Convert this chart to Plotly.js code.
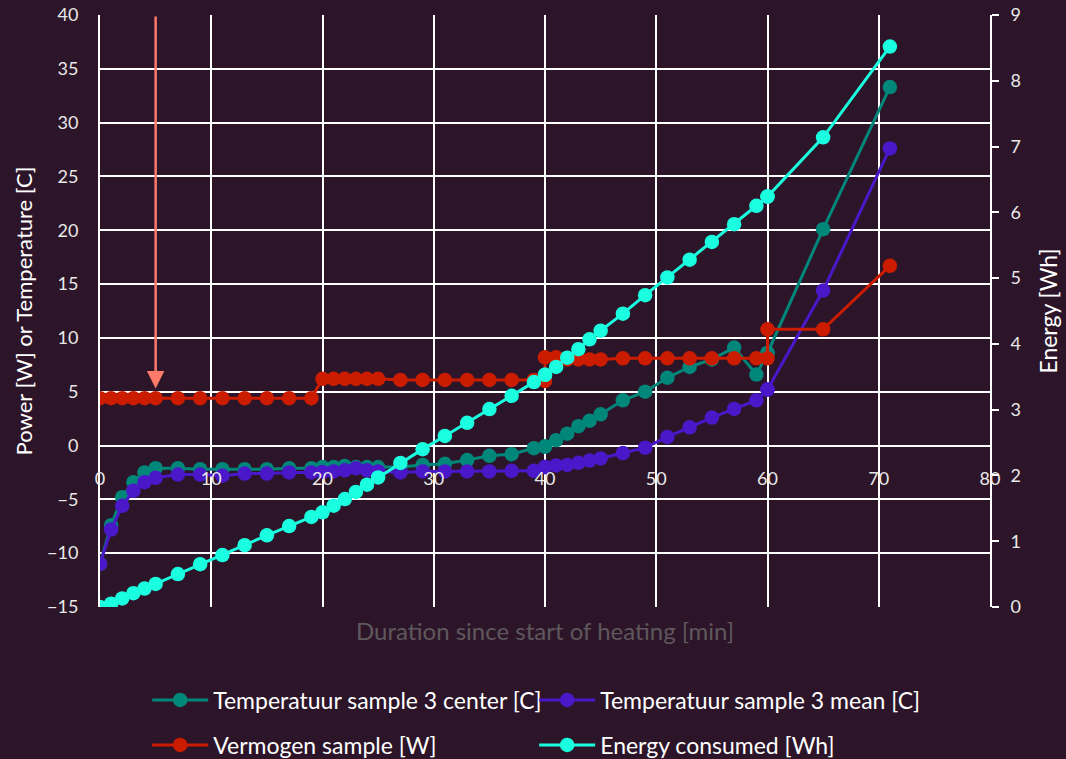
<!DOCTYPE html>
<html>
<head>
<meta charset="utf-8">
<script src="https://cdn.plot.ly/plotly-3.0.1.min.js"></script>
<style>html,body{margin:0;padding:0;background:#2d1529;}#chart{width:1066px;height:759px;}</style>
</head>
<body>
<div id="chart"></div>
<script>
// Duration since start of heating [min]
const minutes = [0,1,2,3,4,5,7,9,11,13,15,17,19,20,21,22,23,24,25,27,29,31,33,35,37,39,40,40,41,42,43,44,45,47,49,51,53,55,57,59,60,60,65,71];
// Temperatuur sample 3 center [C]
const tempCenter = [-11.0,-7.4,-4.8,-3.4,-2.5,-2.1,-2.1,-2.2,-2.2,-2.2,-2.2,-2.1,-2.1,-2.0,-2.0,-1.9,-2.0,-2.0,-2.0,-2.0,-1.8,-1.7,-1.35,-0.95,-0.8,-0.25,-0.1,-0.1,0.5,1.1,1.8,2.3,2.9,4.2,5.0,6.3,7.3,8.0,9.1,6.6,8.6,8.6,20.1,33.3];
// Temperatuur sample 3 mean [C]
const tempMean = [-11.0,-7.8,-5.6,-4.2,-3.4,-3.0,-2.7,-2.7,-2.8,-2.6,-2.6,-2.5,-2.5,-2.45,-2.4,-2.3,-2.1,-2.3,-2.4,-2.5,-2.4,-2.4,-2.4,-2.4,-2.35,-2.35,-2.0,-2.0,-1.85,-1.8,-1.6,-1.4,-1.2,-0.7,-0.2,0.8,1.7,2.6,3.4,4.2,5.2,5.2,14.4,27.6];
// Vermogen sample [W]
const power = [4.4,4.4,4.4,4.4,4.4,4.4,4.4,4.4,4.4,4.4,4.4,4.4,4.4,6.2,6.2,6.2,6.2,6.2,6.2,6.1,6.1,6.1,6.1,6.1,6.1,6.1,6.0,8.2,8.2,8.0,8.0,8.0,8.0,8.1,8.1,8.1,8.1,8.1,8.1,8.1,8.1,10.8,10.8,16.7];
// Energy consumed [Wh]
const energy = [0.0,0.05,0.13,0.21,0.28,0.35,0.5,0.65,0.79,0.94,1.09,1.23,1.37,1.44,1.54,1.64,1.75,1.86,1.97,2.19,2.40,2.60,2.80,3.01,3.21,3.42,3.53,3.53,3.65,3.79,3.92,4.07,4.20,4.46,4.74,5.01,5.28,5.55,5.82,6.10,6.24,6.24,7.14,8.52];

const seriesNames = ["Temperatuur sample 3 center [C]","Temperatuur sample 3 mean [C]","Vermogen sample [W]","Energy consumed [Wh]"];
const colors = ["#00877a","#4a17c9","#cc1c00","#1affe0"];
const arrowMinute = 5, arrowTip = 5.3, arrowTop = 40;

const fontFam = "Lato, 'Open Sans', sans-serif";

function tr(y, i, axis, leg){
  return {x: minutes, y: y, name: seriesNames[i], type:'scatter', mode:'lines+markers',
    yaxis: axis, legend: leg, line:{color:colors[i], width:3}, marker:{color:colors[i], size:14.5}};
}
const data = [tr(tempCenter,0,'y','legend'), tr(tempMean,1,'y','legend'), tr(power,2,'y','legend2'), tr(energy,3,'y2','legend2')];

const legendCommon = {orientation:'h', xanchor:'left', x:0.053, yanchor:'middle',
    entrywidth:316, entrywidthmode:'pixels', itemwidth:56,
    font:{size:23, color:'#ffffff'}, bgcolor:'rgba(0,0,0,0)'};

const layout = {
  width:1066, height:759,
  paper_bgcolor:'#2d1529', plot_bgcolor:'#2d1529',
  margin:{l:100, r:76, t:15, b:152, autoexpand:false},
  font:{family:fontFam, color:'#e8e8e8', size:18},
  showlegend:true,
  xaxis:{range:[0,80], dtick:10, tick0:0, showgrid:true, gridcolor:'#ffffff', gridwidth:2,
    zeroline:false, showline:false, ticks:'', anchor:'free', position:15/55,
    ticklabelstandoff:20, tickfont:{size:18, color:'#e8e8e8'}},
  yaxis:{range:[-15,40], dtick:5, tick0:-15, showgrid:true, gridcolor:'#ffffff', gridwidth:2,
    zeroline:false, showline:true, linecolor:'#ffffff', linewidth:2, ticks:'',
    ticklabelstandoff:16, tickfont:{size:18, color:'#e8e8e8'},
    title:{text:'Power [W] or Temperature [C]', font:{size:22, color:'#ffffff'}, standoff:8}},
  yaxis2:{range:[0,9], dtick:1, overlaying:'y', side:'right', showgrid:false, zeroline:false,
    showline:true, linecolor:'#ffffff', linewidth:2, ticks:'outside', ticklen:7, tickwidth:1.5, tickcolor:'#ffffff',
    ticklabelstandoff:8, tickfont:{size:18, color:'#e8e8e8'},
    title:{text:'Energy [Wh]', font:{size:23, color:'#ffffff'}, standoff:21}},
  legend:Object.assign({}, legendCommon, {y:(607-700)/592}),
  legend2:Object.assign({}, legendCommon, {y:(607-745)/592}),
  annotations:[
    {xref:'paper', yref:'paper', x:0.5, y:(607-630)/592, yanchor:'middle', showarrow:false,
      text:'Duration since start of heating [min]', font:{size:24, color:'#5e585c'}},
    {x:arrowMinute, y:arrowTip, xref:'x', yref:'y', axref:'x', ayref:'y', ax:arrowMinute, ay:arrowTop,
      text:'', showarrow:true, arrowhead:2, arrowsize:1.4, arrowwidth:2.5, arrowcolor:'#ff7a68', standoff:0}
  ]
};
Plotly.newPlot('chart', data, layout, {displayModeBar:false});
</script>
</body>
</html>
